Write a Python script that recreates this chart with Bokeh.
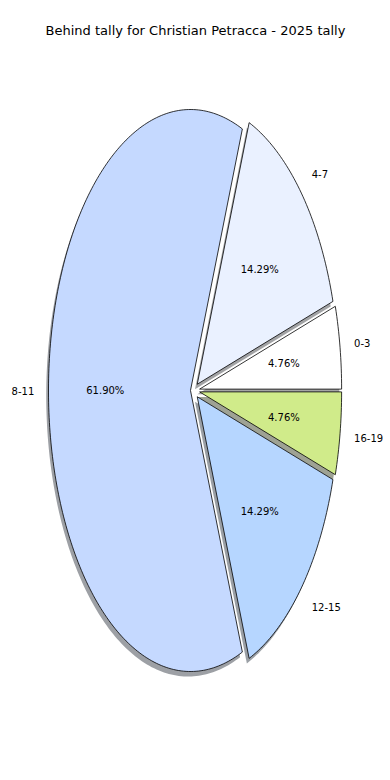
import numpy as np
from bokeh.plotting import figure
from bokeh.models import ColumnDataSource, Range1d
from bokeh.core.properties import value
from bokeh.embed import file_html
from bokeh.resources import INLINE

# ---- data ----
title_text = "Behind tally for Christian Petracca - 2025 tally"
labels = ["0-3", "4-7", "8-11", "12-15", "16-19"]
counts = [1, 3, 13, 3, 1]
explode = [0.065, 0.065, 0.0, 0.065, 0.065]
colors = ["#ffffff", "#eaf1ff", "#c5d9ff", "#b6d6ff", "#d0eb8a"]

# ---- layout ----
W, H = 390, 780
x_range = Range1d(-1.338, 1.4085)
y_range = Range1d(-1.3879, 1.3879)
# data units per pixel ratio (y relative to x), so explode is round on screen
ux = (x_range.end - x_range.start) / W
uy = (y_range.end - y_range.start) / H
asp = uy / ux

# ---- geometry (pie, radius 1, stretched to the frame) ----
vals = np.array(counts, dtype=float)
fracs = vals / vals.sum()
theta_edges = np.concatenate([[0.0], np.cumsum(fracs)]) * 2 * np.pi
shadow_dx, shadow_dy = -0.016, -0.018

wx, wy, sx, sy = [], [], [], []
lab_x, lab_y, lab_align = [], [], []
pct_x, pct_y, pct_text = [], [], []
shadow_colors = []
for i in range(len(vals)):
    t1, t2 = theta_edges[i], theta_edges[i + 1]
    tm = 0.5 * (t1 + t2)
    cx = explode[i] * np.cos(tm)
    cy = explode[i] * np.sin(tm) * asp
    n = max(8, int(np.degrees(t2 - t1)))
    th = np.linspace(t1, t2, n)
    xs = np.concatenate([[cx], cx + np.cos(th)])
    ys = np.concatenate([[cy], cy + np.sin(th)])
    wx.append(list(xs)); wy.append(list(ys))
    sx.append(list(xs + shadow_dx)); sy.append(list(ys + shadow_dy))
    lx = cx + 1.1 * np.cos(tm)
    ly = cy + 1.1 * np.sin(tm)
    lab_x.append(lx); lab_y.append(ly)
    lab_align.append("left" if lx > 0 else "right")
    pct_x.append(cx + 0.6 * np.cos(tm)); pct_y.append(cy + 0.6 * np.sin(tm))
    pct_text.append(f"{fracs[i] * 100:.2f}%")
    h = colors[i].lstrip("#")
    r, g, b = (int(h[k:k + 2], 16) for k in (0, 2, 4))
    shadow_colors.append("#%02x%02x%02x" % (int(r * 0.3), int(g * 0.3), int(b * 0.3)))

p = figure(width=W, height=H, output_backend="svg", toolbar_location=None,
           x_range=x_range, y_range=y_range,
           min_border=0, min_border_left=0, min_border_right=0,
           min_border_top=0, min_border_bottom=0)
p.axis.visible = False
p.grid.visible = False
p.outline_line_color = None
p.background_fill_color = "white"
p.border_fill_color = "white"

p.patches(xs="xs", ys="ys", fill_color="c", fill_alpha=0.5, line_color=None,
          source=ColumnDataSource(dict(xs=sx, ys=sy, c=shadow_colors)))
p.patches(xs="xs", ys="ys", fill_color="c", line_color="black", line_width=0.8,
          source=ColumnDataSource(dict(xs=wx, ys=wy, c=colors)))

p.text(x="x", y="y", text="t", text_align="a", text_baseline="middle",
       text_font=value("DejaVu Sans"), text_font_size="10px", text_color="black",
       source=ColumnDataSource(dict(x=lab_x, y=lab_y, t=labels, a=lab_align)))
p.text(x="x", y="y", text="t", text_align="center", text_baseline="middle",
       text_font=value("DejaVu Sans"), text_font_size="10px", text_color="black",
       source=ColumnDataSource(dict(x=pct_x, y=pct_y, t=pct_text)))
p.text(x=[0.035], y=[1.281], text=[title_text], text_align="center",
       text_baseline="middle", text_font=value("DejaVu Sans"),
       text_font_size="13px", text_color="black")

open("out.html", "w").write(file_html(p, INLINE))
